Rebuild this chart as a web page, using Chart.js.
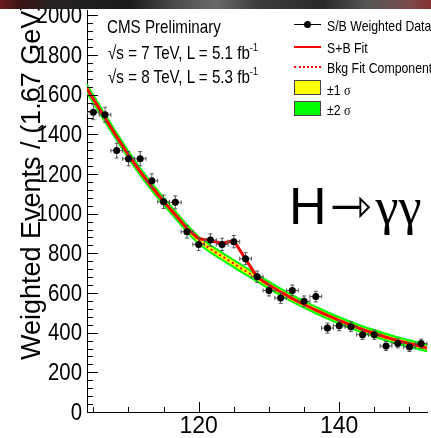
<!DOCTYPE html>
<html>
<head>
<meta charset="utf-8">
<script src="https://cdn.jsdelivr.net/npm/chart.js@4.4.1/dist/chart.umd.min.js"></script>
<style>
  html, body { margin: 0; padding: 0; background: #fff; }
  #wrap { position: relative; width: 431px; height: 438px; overflow: hidden; }
  #plot { position: absolute; left: 0; top: 0; }
  .t { position: absolute; white-space: nowrap; line-height: 1; color: #000;
       font-family: "Liberation Sans", Arial, sans-serif;
       transform-origin: 0 0; transform: scaleX(0.82); }
  .serif { font-family: "Liberation Serif", "Times New Roman", serif; }
  .sup { font-size: 11px; position: relative; top: -8px; }
  #strip { position: absolute; left: 0; top: 0; width: 431px; height: 9px; z-index: 5;
    background: linear-gradient(90deg, #6b1c1c 0%, #3a1414 5%, #262222 12%, #1c1c1c 30%, #4a4a4a 40%,
      #6a6a6a 50%, #3c3c3c 60%, #2a2a2a 75%, #555 85%, #7a4a4a 95%, #8a3030 100%); }
  #ytitle { position: absolute; left: 18px; top: 360px; transform-origin: 0 0; transform: rotate(-90deg);
    font-family: "Liberation Sans", Arial, sans-serif; font-size: 27px; line-height: 1; white-space: nowrap; }
  .sym { position: absolute; }
  #hgg { position: absolute; left: 289px; top: 180px; font-size: 52px; line-height: 1; white-space: nowrap;
    font-family: "Liberation Sans", Arial, sans-serif; }
</style>
</head>
<body>
<div id="wrap">
  <canvas id="plot" width="431" height="438"></canvas>
  <div id="strip"></div>
  <div id="ytitle">Weighted Events / (1.67 GeV)</div>

  <div class="t" style="left:107px;top:18px;font-size:18.5px;">CMS Preliminary</div>
  <div class="t" style="left:108px;top:44px;font-size:18.5px;">√s = 7 TeV, L = 5.1 fb<span class="sup">-1</span></div>
  <div class="t" style="left:108px;top:68px;font-size:18.5px;">√s = 8 TeV, L = 5.3 fb<span class="sup">-1</span></div>

  <!-- legend -->
  <div class="sym" style="left:294px;top:24px;width:27px;height:1px;background:#000;"></div>
  <div class="sym" style="left:304px;top:21px;width:7px;height:7px;border-radius:50%;background:#000;"></div>
  <div class="sym" style="left:294px;top:46px;width:27px;height:2px;background:#f00;"></div>
  <div class="sym" style="left:294px;top:66px;width:27px;height:0;border-top:2px dotted #f00;"></div>
  <div class="sym" style="left:294px;top:80px;width:25px;height:13px;background:#ff0;border:1px solid #444;"></div>
  <div class="sym" style="left:294px;top:101px;width:25px;height:13px;background:#0f0;border:1px solid #444;"></div>
  <div class="t" style="left:327px;top:18px;font-size:15px;">S/B Weighted Data</div>
  <div class="t" style="left:327px;top:40px;font-size:15px;">S+B Fit</div>
  <div class="t" style="left:327px;top:60px;font-size:15px;">Bkg Fit Component</div>
  <div class="t" style="left:327px;top:82px;font-size:15px;">±1 <span class="serif">σ</span></div>
  <div class="t" style="left:327px;top:102px;font-size:15px;">±2 <span class="serif">σ</span></div>

  <div id="hgg">H<span style="font-family:'DejaVu Sans';font-size:50px;position:relative;top:-1px;margin-left:3px;">⇾</span><span class="serif" style="margin-left:4px;">γγ</span></div>
</div>

<script>
// diphoton mass bin centres (GeV) and S/B weighted counts
const mass = [105.0, 106.67, 108.33, 110.0, 111.67, 113.33, 115.0, 116.67, 118.33, 120.0,
  121.67, 123.33, 125.0, 126.67, 128.33, 130.0, 131.67, 133.33, 135.0, 136.67,
  138.33, 140.0, 141.67, 143.33, 145.0, 146.67, 148.33, 150.0, 151.67];
const weighted = [1512, 1499, 1318, 1277, 1277, 1166, 1060, 1057, 909, 845,
  867, 845, 859, 773, 682, 613, 575, 613, 558, 582,
  423, 435, 430, 390, 390, 333, 346, 328, 345];
const weightedErr = [38, 38, 37, 36, 36, 35, 34, 33, 32, 31,
  31, 31, 31, 30, 29, 28, 27, 27, 27, 27,
  25, 25, 25, 24, 24, 23, 23, 23, 23];
const halfBin = 0.835;

// fit curves, sampled at bin centres plus the plot edges
const fitMass = [104.0, 105.0, 106.67, 108.33, 110.0, 111.67, 113.33, 115.0, 116.67, 118.33,
  120.0, 121.67, 123.33, 125.0, 126.67, 128.33, 130.0, 131.67, 133.33, 135.0,
  136.67, 138.33, 140.0, 141.67, 143.33, 145.0, 146.67, 148.33, 150.0, 151.67, 152.5];
const bkgFit = [1635, 1578, 1482, 1388, 1296, 1212, 1135, 1063, 995, 925,
  866, 822, 785, 748, 711, 675, 640, 605, 572, 542,
  514, 487, 462, 438, 416, 396, 377, 360, 345, 330, 323];
const sbFit = [1635, 1578, 1482, 1388, 1296, 1212, 1135, 1063, 995, 925,
  874, 865, 850, 865, 770, 680, 640, 605, 572, 542,
  514, 487, 462, 438, 416, 396, 377, 360, 345, 330, 323];
const sigma1 = [15, 14, 14, 13, 13, 13, 12, 12, 12, 12,
  12, 12, 12, 12, 12, 11, 11, 11, 11, 11,
  10, 10, 10, 10, 10, 10, 10, 10, 10, 10, 10];
const sigma2 = [30, 29, 28, 27, 27, 26, 26, 25, 25, 25,
  24, 24, 24, 24, 24, 23, 23, 23, 23, 22,
  22, 22, 22, 22, 22, 22, 22, 22, 22, 22, 22];

const xTicks = [120, 140];
const yTicks = [0, 200, 400, 600, 800, 1000, 1200, 1400, 1600, 1800, 2000];
const xMinorStep = 5;
const yMinorStep = 40;

const tickFont = { family: "'Liberation Sans', Arial, sans-serif", size: 23, lineHeight: 0.85 };

function curve(vals) {
  return fitMass.map((m, i) => ({ x: m, y: vals[i] }));
}

const DATA_INDEX = 6;

// error bars, drawn just before the data markers
const errorBars = {
  id: "errorBars",
  beforeDatasetDraw(chart, args) {
    if (args.index !== DATA_INDEX) return;
    const { ctx, scales: { x, y } } = chart;
    ctx.save();
    ctx.strokeStyle = "#555";
    ctx.lineWidth = 1;
    const cap = 2;
    mass.forEach((m, i) => {
      const px = x.getPixelForValue(m);
      const py = y.getPixelForValue(weighted[i]);
      const yHi = y.getPixelForValue(weighted[i] + weightedErr[i]);
      const yLo = y.getPixelForValue(weighted[i] - weightedErr[i]);
      const xL = x.getPixelForValue(m - halfBin);
      const xR = x.getPixelForValue(m + halfBin);
      ctx.beginPath();
      ctx.moveTo(px, yHi); ctx.lineTo(px, yLo);
      ctx.moveTo(px - cap, yHi); ctx.lineTo(px + cap, yHi);
      ctx.moveTo(px - cap, yLo); ctx.lineTo(px + cap, yLo);
      ctx.moveTo(xL, py); ctx.lineTo(xR, py);
      ctx.moveTo(xL, py - cap); ctx.lineTo(xL, py + cap);
      ctx.moveTo(xR, py - cap); ctx.lineTo(xR, py + cap);
      ctx.stroke();
    });
    ctx.restore();
  }
};

// ROOT style inward tick marks and narrow y labels
const axisDecor = {
  id: "axisDecor",
  afterDraw(chart) {
    const { ctx, chartArea: a, scales: { x, y } } = chart;
    ctx.save();
    ctx.strokeStyle = "#000";
    ctx.lineWidth = 1;
    ctx.beginPath();
    for (let v = 0; v <= y.max; v += yMinorStep) {
      const py = Math.round(y.getPixelForValue(v)) + 0.5;
      const len = yTicks.includes(v) ? 11 : 6;
      ctx.moveTo(a.left, py); ctx.lineTo(a.left + len, py);
    }
    for (let v = Math.ceil(x.min / xMinorStep) * xMinorStep; v <= x.max; v += xMinorStep) {
      const px = Math.round(x.getPixelForValue(v)) + 0.5;
      const len = xTicks.includes(v) ? 10 : 5;
      ctx.moveTo(px, a.bottom); ctx.lineTo(px, a.bottom - len);
    }
    ctx.stroke();

    ctx.fillStyle = "#000";
    ctx.font = "24px 'Liberation Sans', Arial, sans-serif";
    ctx.textAlign = "right";
    ctx.textBaseline = "middle";
    yTicks.forEach(v => {
      ctx.save();
      ctx.translate(a.left - 5, y.getPixelForValue(v) + 1);
      ctx.scale(0.85, 1);
      ctx.fillText(String(v), 0, 0);
      ctx.restore();
    });
    ctx.restore();
  }
};

new Chart(document.getElementById("plot"), {
  type: "line",
  data: {
    datasets: [
      { data: curve(bkgFit.map((v, i) => v + sigma2[i])), borderWidth: 0, pointRadius: 0, fill: "+1", backgroundColor: "#00ff00", order: 6 },
      { data: curve(bkgFit.map((v, i) => v - sigma2[i])), borderWidth: 0, pointRadius: 0, fill: false, order: 6 },
      { data: curve(bkgFit.map((v, i) => v + sigma1[i])), borderWidth: 0, pointRadius: 0, fill: "+1", backgroundColor: "#ffff00", order: 5 },
      { data: curve(bkgFit.map((v, i) => v - sigma1[i])), borderWidth: 0, pointRadius: 0, fill: false, order: 5 },
      { data: curve(bkgFit), borderColor: "#ff0000", borderWidth: 2, borderDash: [2, 3], pointRadius: 0, fill: false, order: 4 },
      { data: curve(sbFit), borderColor: "#ff0000", borderWidth: 3, pointRadius: 0, fill: false, order: 3 },
      { data: mass.map((m, i) => ({ x: m, y: weighted[i] })), showLine: false, pointRadius: 3.5,
        pointBackgroundColor: "#000", pointBorderWidth: 0, order: 1 }
    ]
  },
  options: {
    responsive: false,
    animation: false,
    layout: { padding: { top: 10, left: 0, right: 0, bottom: 0 } },
    plugins: { legend: { display: false }, tooltip: { enabled: false } },
    elements: { line: { tension: 0 } },
    scales: {
      x: {
        type: "linear", min: 104.1, max: 152.5,
        grid: { display: false, drawTicks: false },
        border: { display: true, color: "#000", width: 1 },
        afterBuildTicks: s => { s.ticks = xTicks.map(v => ({ value: v })); },
        afterFit: s => { s.height = 26; },
        ticks: { font: tickFont, color: "#000", padding: 5, maxRotation: 0, autoSkip: false }
      },
      y: {
        type: "linear", min: 0, max: 2027,
        grid: { display: false, drawTicks: false },
        border: { display: true, color: "#000", width: 1 },
        afterBuildTicks: s => { s.ticks = yTicks.map(v => ({ value: v })); },
        afterFit: s => { s.width = 87; },
        ticks: { display: false }
      }
    }
  },
  plugins: [errorBars, axisDecor]
});
</script>
</body>
</html>
